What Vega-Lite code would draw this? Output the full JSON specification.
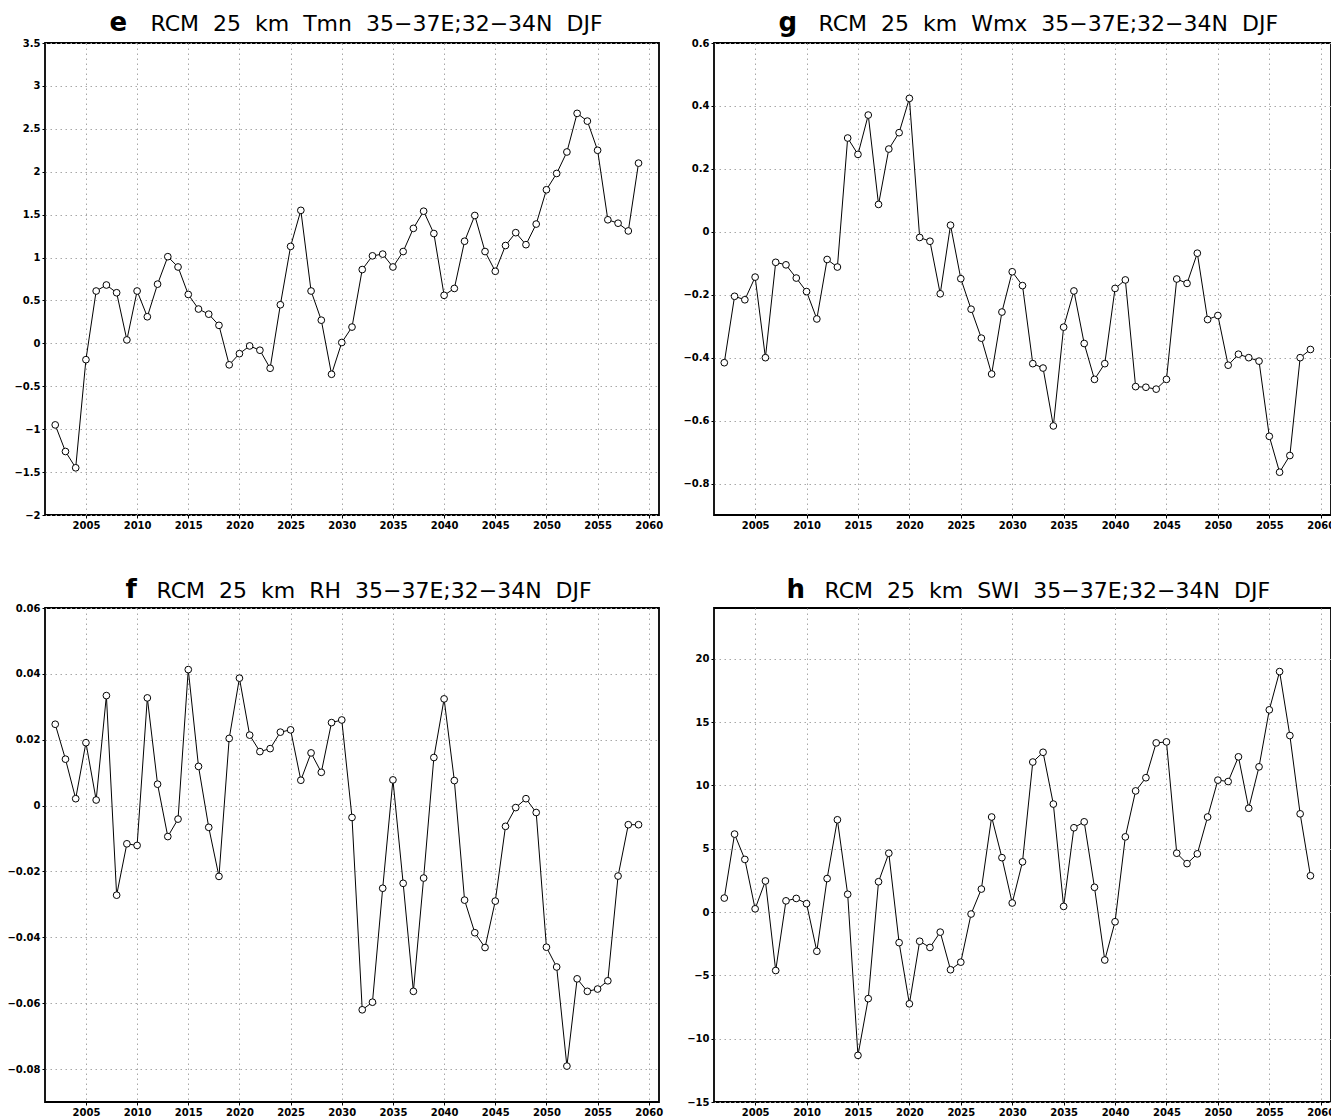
{
  "$schema": "https://vega.github.io/schema/vega-lite/v6.json",
  "background": "white",
  "padding": {"left": 6, "top": 8, "right": 0, "bottom": 0},
  "bounds": "flush",
  "columns": 2,
  "spacing": {"row": 93, "column": 55},
  "datasets": {
    "tmn": [
      {"year": 2002, "value": -0.95}, {"year": 2003, "value": -1.26}, {"year": 2004, "value": -1.45},
      {"year": 2005, "value": -0.19}, {"year": 2006, "value": 0.61}, {"year": 2007, "value": 0.68},
      {"year": 2008, "value": 0.59}, {"year": 2009, "value": 0.04}, {"year": 2010, "value": 0.61},
      {"year": 2011, "value": 0.31}, {"year": 2012, "value": 0.69}, {"year": 2013, "value": 1.01},
      {"year": 2014, "value": 0.89}, {"year": 2015, "value": 0.57}, {"year": 2016, "value": 0.40},
      {"year": 2017, "value": 0.34}, {"year": 2018, "value": 0.21}, {"year": 2019, "value": -0.25},
      {"year": 2020, "value": -0.12}, {"year": 2021, "value": -0.03}, {"year": 2022, "value": -0.08},
      {"year": 2023, "value": -0.29}, {"year": 2024, "value": 0.45}, {"year": 2025, "value": 1.13},
      {"year": 2026, "value": 1.55}, {"year": 2027, "value": 0.61}, {"year": 2028, "value": 0.27},
      {"year": 2029, "value": -0.36}, {"year": 2030, "value": 0.01}, {"year": 2031, "value": 0.19},
      {"year": 2032, "value": 0.86}, {"year": 2033, "value": 1.02}, {"year": 2034, "value": 1.04},
      {"year": 2035, "value": 0.89}, {"year": 2036, "value": 1.07}, {"year": 2037, "value": 1.34},
      {"year": 2038, "value": 1.54}, {"year": 2039, "value": 1.28}, {"year": 2040, "value": 0.56},
      {"year": 2041, "value": 0.64}, {"year": 2042, "value": 1.19}, {"year": 2043, "value": 1.49},
      {"year": 2044, "value": 1.07}, {"year": 2045, "value": 0.84}, {"year": 2046, "value": 1.14},
      {"year": 2047, "value": 1.29}, {"year": 2048, "value": 1.15}, {"year": 2049, "value": 1.39},
      {"year": 2050, "value": 1.79}, {"year": 2051, "value": 1.98}, {"year": 2052, "value": 2.23},
      {"year": 2053, "value": 2.68}, {"year": 2054, "value": 2.59}, {"year": 2055, "value": 2.25},
      {"year": 2056, "value": 1.44}, {"year": 2057, "value": 1.40}, {"year": 2058, "value": 1.31},
      {"year": 2059, "value": 2.10}
    ],
    "wmx": [
      {"year": 2002, "value": -0.416}, {"year": 2003, "value": -0.205}, {"year": 2004, "value": -0.216},
      {"year": 2005, "value": -0.144}, {"year": 2006, "value": -0.40}, {"year": 2007, "value": -0.097},
      {"year": 2008, "value": -0.105}, {"year": 2009, "value": -0.147}, {"year": 2010, "value": -0.19},
      {"year": 2011, "value": -0.277}, {"year": 2012, "value": -0.088}, {"year": 2013, "value": -0.112},
      {"year": 2014, "value": 0.298}, {"year": 2015, "value": 0.246}, {"year": 2016, "value": 0.371},
      {"year": 2017, "value": 0.087}, {"year": 2018, "value": 0.263}, {"year": 2019, "value": 0.315},
      {"year": 2020, "value": 0.424}, {"year": 2021, "value": -0.018}, {"year": 2022, "value": -0.03},
      {"year": 2023, "value": -0.197}, {"year": 2024, "value": 0.021}, {"year": 2025, "value": -0.149},
      {"year": 2026, "value": -0.246}, {"year": 2027, "value": -0.338}, {"year": 2028, "value": -0.452},
      {"year": 2029, "value": -0.255}, {"year": 2030, "value": -0.127}, {"year": 2031, "value": -0.171},
      {"year": 2032, "value": -0.419}, {"year": 2033, "value": -0.433}, {"year": 2034, "value": -0.617},
      {"year": 2035, "value": -0.303}, {"year": 2036, "value": -0.188}, {"year": 2037, "value": -0.355},
      {"year": 2038, "value": -0.469}, {"year": 2039, "value": -0.419}, {"year": 2040, "value": -0.180},
      {"year": 2041, "value": -0.153}, {"year": 2042, "value": -0.492}, {"year": 2043, "value": -0.494},
      {"year": 2044, "value": -0.50}, {"year": 2045, "value": -0.469}, {"year": 2046, "value": -0.150},
      {"year": 2047, "value": -0.164}, {"year": 2048, "value": -0.068}, {"year": 2049, "value": -0.279},
      {"year": 2050, "value": -0.266}, {"year": 2051, "value": -0.424}, {"year": 2052, "value": -0.389},
      {"year": 2053, "value": -0.40}, {"year": 2054, "value": -0.411}, {"year": 2055, "value": -0.65},
      {"year": 2056, "value": -0.764}, {"year": 2057, "value": -0.711}, {"year": 2058, "value": -0.40},
      {"year": 2059, "value": -0.374}
    ],
    "rh": [
      {"year": 2002, "value": 0.0247}, {"year": 2003, "value": 0.0141}, {"year": 2004, "value": 0.0021},
      {"year": 2005, "value": 0.0191}, {"year": 2006, "value": 0.0017}, {"year": 2007, "value": 0.0334},
      {"year": 2008, "value": -0.0272}, {"year": 2009, "value": -0.0116}, {"year": 2010, "value": -0.0121},
      {"year": 2011, "value": 0.0327}, {"year": 2012, "value": 0.0065}, {"year": 2013, "value": -0.0094},
      {"year": 2014, "value": -0.0041}, {"year": 2015, "value": 0.0413}, {"year": 2016, "value": 0.0119},
      {"year": 2017, "value": -0.0066}, {"year": 2018, "value": -0.0215}, {"year": 2019, "value": 0.0204},
      {"year": 2020, "value": 0.0387}, {"year": 2021, "value": 0.0214}, {"year": 2022, "value": 0.0164},
      {"year": 2023, "value": 0.0173}, {"year": 2024, "value": 0.0223}, {"year": 2025, "value": 0.0230},
      {"year": 2026, "value": 0.0077}, {"year": 2027, "value": 0.0160}, {"year": 2028, "value": 0.0101},
      {"year": 2029, "value": 0.0252}, {"year": 2030, "value": 0.0260}, {"year": 2031, "value": -0.0036},
      {"year": 2032, "value": -0.0620}, {"year": 2033, "value": -0.0597}, {"year": 2034, "value": -0.0251},
      {"year": 2035, "value": 0.0078}, {"year": 2036, "value": -0.0236}, {"year": 2037, "value": -0.0564},
      {"year": 2038, "value": -0.0220}, {"year": 2039, "value": 0.0146}, {"year": 2040, "value": 0.0324},
      {"year": 2041, "value": 0.0076}, {"year": 2042, "value": -0.0287}, {"year": 2043, "value": -0.0386},
      {"year": 2044, "value": -0.0431}, {"year": 2045, "value": -0.0290}, {"year": 2046, "value": -0.0063},
      {"year": 2047, "value": -0.0006}, {"year": 2048, "value": 0.0021}, {"year": 2049, "value": -0.0021},
      {"year": 2050, "value": -0.0430}, {"year": 2051, "value": -0.0490}, {"year": 2052, "value": -0.0791},
      {"year": 2053, "value": -0.0526}, {"year": 2054, "value": -0.0564}, {"year": 2055, "value": -0.0557},
      {"year": 2056, "value": -0.0532}, {"year": 2057, "value": -0.0214}, {"year": 2058, "value": -0.0058},
      {"year": 2059, "value": -0.0058}
    ],
    "swi": [
      {"year": 2002, "value": 1.10}, {"year": 2003, "value": 6.15}, {"year": 2004, "value": 4.15},
      {"year": 2005, "value": 0.25}, {"year": 2006, "value": 2.45}, {"year": 2007, "value": -4.62},
      {"year": 2008, "value": 0.88}, {"year": 2009, "value": 1.07}, {"year": 2010, "value": 0.66},
      {"year": 2011, "value": -3.10}, {"year": 2012, "value": 2.64}, {"year": 2013, "value": 7.28},
      {"year": 2014, "value": 1.40}, {"year": 2015, "value": -11.32}, {"year": 2016, "value": -6.84},
      {"year": 2017, "value": 2.39}, {"year": 2018, "value": 4.64}, {"year": 2019, "value": -2.42},
      {"year": 2020, "value": -7.25}, {"year": 2021, "value": -2.31}, {"year": 2022, "value": -2.80},
      {"year": 2023, "value": -1.59}, {"year": 2024, "value": -4.56}, {"year": 2025, "value": -3.96},
      {"year": 2026, "value": -0.16}, {"year": 2027, "value": 1.81}, {"year": 2028, "value": 7.50},
      {"year": 2029, "value": 4.29}, {"year": 2030, "value": 0.71}, {"year": 2031, "value": 3.96},
      {"year": 2032, "value": 11.84}, {"year": 2033, "value": 12.61}, {"year": 2034, "value": 8.52},
      {"year": 2035, "value": 0.44}, {"year": 2036, "value": 6.65}, {"year": 2037, "value": 7.12},
      {"year": 2038, "value": 1.95}, {"year": 2039, "value": -3.79}, {"year": 2040, "value": -0.77},
      {"year": 2041, "value": 5.93}, {"year": 2042, "value": 9.56}, {"year": 2043, "value": 10.60},
      {"year": 2044, "value": 13.35}, {"year": 2045, "value": 13.43}, {"year": 2046, "value": 4.64},
      {"year": 2047, "value": 3.82}, {"year": 2048, "value": 4.59}, {"year": 2049, "value": 7.50},
      {"year": 2050, "value": 10.41}, {"year": 2051, "value": 10.30}, {"year": 2052, "value": 12.25},
      {"year": 2053, "value": 8.19}, {"year": 2054, "value": 11.46}, {"year": 2055, "value": 15.96},
      {"year": 2056, "value": 18.98}, {"year": 2057, "value": 13.93}, {"year": 2058, "value": 7.75},
      {"year": 2059, "value": 2.86}
    ]
  },
  "concat": [
    {
      "width": 614,
      "height": 472,
      "data": {"name": "tmn"},
      "encoding": {
        "x": {
          "field": "year", "type": "quantitative",
          "scale": {"domain": [2001, 2061], "nice": false, "zero": false},
          "axis": {
            "values": [2005, 2010, 2015, 2020, 2025, 2030, 2035, 2040, 2045, 2050, 2055, 2060],
            "format": "d",
            "title": "RCM\u00a0 25\u00a0 km\u00a0 Tmn\u00a0 35\u221237E;32\u221234N\u00a0 DJF",
            "titleX": 105, "titleY": -485, "titleAlign": "left"
          }
        },
        "y": {
          "field": "value", "type": "quantitative",
          "scale": {"domain": [-2, 3.5], "nice": false, "zero": false},
          "axis": {
            "values": [-2, -1.5, -1, -0.5, 0, 0.5, 1, 1.5, 2, 2.5, 3, 3.5],
            "format": "~f",
            "title": "e", "titleX": 64, "titleY": -13
          }
        }
      },
      "layer": [
        {"mark": {"type": "line", "color": "black", "strokeWidth": 1}},
        {"mark": {"type": "point", "shape": "circle", "filled": true, "fill": "white", "stroke": "black", "strokeWidth": 1, "size": 45, "opacity": 1}}
      ]
    },
    {
      "width": 617,
      "height": 472,
      "data": {"name": "wmx"},
      "encoding": {
        "x": {
          "field": "year", "type": "quantitative",
          "scale": {"domain": [2001, 2061], "nice": false, "zero": false},
          "axis": {
            "values": [2005, 2010, 2015, 2020, 2025, 2030, 2035, 2040, 2045, 2050, 2055, 2060],
            "format": "d",
            "title": "RCM\u00a0 25\u00a0 km\u00a0 Wmx\u00a0 35\u221237E;32\u221234N\u00a0 DJF",
            "titleX": 104, "titleY": -485, "titleAlign": "left"
          }
        },
        "y": {
          "field": "value", "type": "quantitative",
          "scale": {"domain": [-0.9, 0.6], "nice": false, "zero": false},
          "axis": {
            "values": [-0.8, -0.6, -0.4, -0.2, 0, 0.2, 0.4, 0.6],
            "format": "~f",
            "title": "g", "titleX": 64, "titleY": -13
          }
        }
      },
      "layer": [
        {"mark": {"type": "line", "color": "black", "strokeWidth": 1}},
        {"mark": {"type": "point", "shape": "circle", "filled": true, "fill": "white", "stroke": "black", "strokeWidth": 1, "size": 45, "opacity": 1}}
      ]
    },
    {
      "width": 614,
      "height": 494,
      "data": {"name": "rh"},
      "encoding": {
        "x": {
          "field": "year", "type": "quantitative",
          "scale": {"domain": [2001, 2061], "nice": false, "zero": false},
          "axis": {
            "values": [2005, 2010, 2015, 2020, 2025, 2030, 2035, 2040, 2045, 2050, 2055, 2060],
            "format": "d",
            "title": "RCM\u00a0 25\u00a0 km\u00a0 RH\u00a0 35\u221237E;32\u221234N\u00a0 DJF",
            "titleX": 111, "titleY": -505, "titleAlign": "left"
          }
        },
        "y": {
          "field": "value", "type": "quantitative",
          "scale": {"domain": [-0.09, 0.06], "nice": false, "zero": false},
          "axis": {
            "values": [-0.08, -0.06, -0.04, -0.02, 0, 0.02, 0.04, 0.06],
            "format": "~f",
            "title": "f", "titleX": 80, "titleY": -11
          }
        }
      },
      "layer": [
        {"mark": {"type": "line", "color": "black", "strokeWidth": 1}},
        {"mark": {"type": "point", "shape": "circle", "filled": true, "fill": "white", "stroke": "black", "strokeWidth": 1, "size": 45, "opacity": 1}}
      ]
    },
    {
      "width": 617,
      "height": 494,
      "data": {"name": "swi"},
      "encoding": {
        "x": {
          "field": "year", "type": "quantitative",
          "scale": {"domain": [2001, 2061], "nice": false, "zero": false},
          "axis": {
            "values": [2005, 2010, 2015, 2020, 2025, 2030, 2035, 2040, 2045, 2050, 2055, 2060],
            "format": "d",
            "title": "RCM\u00a0 25\u00a0 km\u00a0 SWI\u00a0 35\u221237E;32\u221234N\u00a0 DJF",
            "titleX": 110, "titleY": -505, "titleAlign": "left"
          }
        },
        "y": {
          "field": "value", "type": "quantitative",
          "scale": {"domain": [-15, 24], "nice": false, "zero": false},
          "axis": {
            "values": [-15, -10, -5, 0, 5, 10, 15, 20],
            "format": "~f",
            "title": "h", "titleX": 72, "titleY": -11
          }
        }
      },
      "layer": [
        {"mark": {"type": "line", "color": "black", "strokeWidth": 1}},
        {"mark": {"type": "point", "shape": "circle", "filled": true, "fill": "white", "stroke": "black", "strokeWidth": 1, "size": 45, "opacity": 1}}
      ]
    }
  ],
  "config": {
    "view": {"stroke": "black", "strokeWidth": 1.8},
    "axis": {
      "grid": true,
      "gridColor": "#a8a8a8",
      "gridDash": [1.5, 3.5],
      "gridWidth": 1,
      "domain": false,
      "ticks": true,
      "tickColor": "black",
      "tickSize": 3,
      "tickWidth": 1,
      "labelFont": "DejaVu Sans",
      "labelFontWeight": "bold",
      "labelFontSize": 10,
      "labelColor": "black",
      "labelPadding": 2,
      "labelFlush": false,
      "labelOverlap": false
    },
    "axisX": {
      "titleFont": "DejaVu Sans",
      "titleFontSize": 22,
      "titleFontWeight": "normal",
      "titleColor": "black",
      "titleBaseline": "alphabetic",
      "titleAngle": 0
    },
    "axisY": {
      "titleFont": "DejaVu Sans",
      "titleFontSize": 26,
      "titleFontWeight": "bold",
      "titleColor": "black",
      "titleBaseline": "alphabetic",
      "titleAlign": "left",
      "titleAngle": 0
    }
  }
}
